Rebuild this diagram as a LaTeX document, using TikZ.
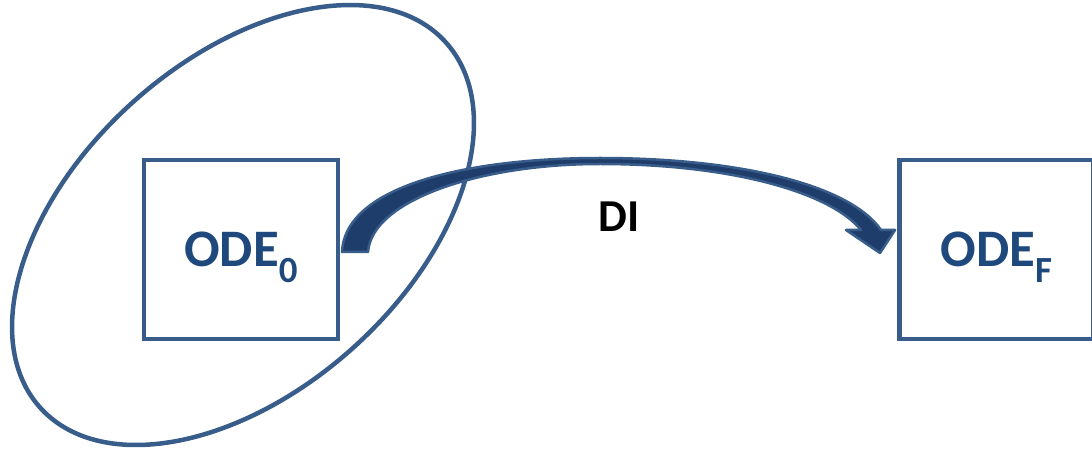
\documentclass[tikz,border=0pt]{standalone}
\usepackage{fontspec}
\setmainfont{Carlito}
\usepackage{tikz}
\usetikzlibrary{positioning}
\usepackage{xcolor}
\definecolor{odeline}{HTML}{385D8A}
\definecolor{odetext}{HTML}{1F497D}
\definecolor{odefill}{HTML}{1F3D6B}

\begin{document}
\begin{tikzpicture}[
                x=0.02cm, y=0.02cm,
                node distance=11.14cm,
                odebox/.style={draw=odeline, rectangle, line width=0.09cm, minimum width=3.88cm, minimum height=3.58cm, align=center, text=odetext, font=\fontsize{30}{36}\selectfont\bfseries},
                ring/.style={draw=odeline, line width=0.09cm},
                bigarrow/.style={draw=odeline, fill=odefill, line width=0.05cm, line join=round}
            ]

\useasboundingbox (0,0) rectangle (1092,450);

\node[odebox] (odezero) at (241,200.5) {ODE\raisebox{-0.3em}[0pt][0pt]{\fontsize{21}{21}\selectfont 0}};
            \node[odebox, right=of odezero] (odef) {ODE\raisebox{-0.3em}[0pt][0pt]{\fontsize{21}{21}\selectfont F}};

\coordinate (ringc) at (243,225);
            \draw[ring, rotate around={42:(ringc)}] (ringc) ellipse [x radius=5.46cm, y radius=3.3cm];

\coordinate (tail) at (342,198);
            \coordinate (tip) at (880,197);
            \draw[bigarrow] (tail) .. controls (345,265) and (470,292) .. (600,292)
                .. controls (740,292) and (850,265) .. (881,220)
                -- (895,220) -- (tip) -- (846,220) -- (861,220)
                .. controls (830,258) and (730,286) .. (600,286)
                .. controls (480,286) and (372,250) .. (368,198) -- cycle;

\node[font=\fontsize{26}{30}\selectfont\bfseries] (dilabel) at (619,233) {DI};

            \end{tikzpicture}
\end{document}
